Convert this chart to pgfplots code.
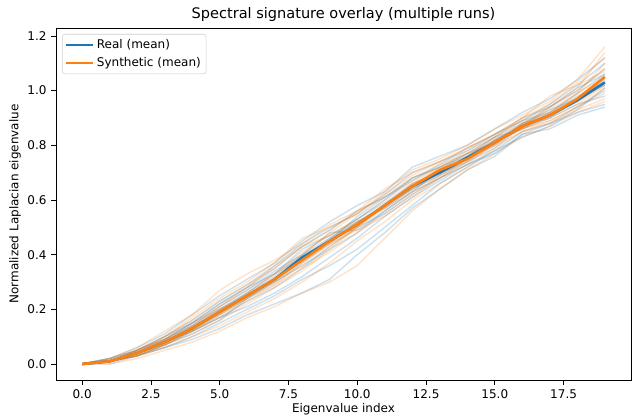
\documentclass[border=0pt]{standalone}
\usepackage{fontspec}
\setmainfont{DejaVu Sans}
\usepackage{pgfplots}
\pgfplotsset{compat=1.18}

\definecolor{mplblue}{HTML}{1F77B4}
\definecolor{mplorange}{HTML}{FF7F0E}

% one faint run: values at eigenvalue index 0,1,2,...
\newcommand{\run}[2]{\addplot[#1, forget plot] table[x expr=\coordindex, y index=0, header=false, row sep=\\] {#2};}

\begin{document}
\begin{tikzpicture}
% 1px of the reference = 0.75pt
\useasboundingbox (0,0) rectangle (474pt,312.75pt);
\begin{axis}[
    at={(42pt,27.75pt)}, anchor=south west,
    scale only axis,
    width=431.25pt, height=264pt,
    xmin=-0.95, xmax=19.95,
    ymin=-0.0585, ymax=1.229,
    xtick={0,2.5,...,17.5},
    ytick={0,0.2,...,1.2},
    xticklabel style={/pgf/number format/.cd, fixed, fixed zerofill, precision=1},
    yticklabel style={/pgf/number format/.cd, fixed, fixed zerofill, precision=1},
    /pgf/number format/assume math mode=true,
    tick align=outside, xtick pos=bottom, ytick pos=left,
    major tick length=3.6pt,
    tick style={black, line width=0.6pt},
    axis line style={black, line width=0.6pt},
    tick label style={font=\fontsize{9}{11}\selectfont},
    label style={font=\fontsize{9}{11}\selectfont},
    xlabel={Eigenvalue index},
    ylabel={Normalized Laplacian eigenvalue},
    xlabel style={yshift=3pt},
    ylabel style={yshift=-2pt},
    title={Spectral signature overlay (multiple runs)},
    title style={font=\fontsize{10.9}{13}\selectfont, yshift=-5pt},
    legend cell align=left,
    legend style={at={(0,1)}, anchor=north west, xshift=4.5pt, yshift=-4.5pt,
        draw=black!20, rounded corners=2pt, fill=white, fill opacity=0.8, text opacity=1,
        font=\fontsize{9}{11}\selectfont, inner sep=2pt, row sep=1pt},
    legend image code/.code={\draw[#1] (0pt,0pt) -- (20pt,0pt);},
    faintR/.style={mplblue, opacity=0.22, line width=1.1pt},
    faintS/.style={mplorange, opacity=0.22, line width=1.1pt},
]
% Real runs
\run{faintR}{0\\.01\\.05\\.10\\.16\\.23\\.29\\.36\\.44\\.50\\.55\\.62\\.70\\.74\\.78\\.84\\.90\\.94\\1.00\\1.08\\}
\run{faintR}{0\\.01\\.03\\.06\\.10\\.15\\.20\\.25\\.31\\.36\\.42\\.50\\.58\\.66\\.72\\.78\\.85\\.88\\.94\\1.00\\}
\run{faintR}{0\\.02\\.05\\.09\\.15\\.22\\.28\\.33\\.42\\.47\\.53\\.60\\.68\\.72\\.76\\.83\\.89\\.92\\.99\\1.06\\}
\run{faintR}{0\\.00\\.03\\.07\\.11\\.16\\.24\\.30\\.37\\.44\\.52\\.57\\.64\\.69\\.75\\.80\\.88\\.93\\.97\\1.02\\}
\run{faintR}{0\\.01\\.04\\.09\\.14\\.21\\.27\\.34\\.40\\.48\\.49\\.56\\.63\\.71\\.77\\.83\\.86\\.90\\.95\\.98\\}
\run{faintR}{0\\.01\\.04\\.08\\.12\\.17\\.21\\.26\\.32\\.39\\.46\\.54\\.61\\.67\\.73\\.77\\.84\\.88\\.92\\.95\\}
\run{faintR}{0\\.02\\.06\\.11\\.18\\.25\\.31\\.37\\.45\\.52\\.58\\.63\\.72\\.76\\.80\\.86\\.92\\.97\\1.04\\1.12\\}
\run{faintR}{0\\.01\\.03\\.07\\.12\\.18\\.24\\.30\\.36\\.42\\.48\\.56\\.63\\.68\\.73\\.78\\.83\\.87\\.93\\1.01\\}
\run{faintR}{0\\.01\\.04\\.08\\.13\\.20\\.26\\.32\\.40\\.46\\.53\\.59\\.66\\.70\\.74\\.79\\.87\\.94\\1.01\\1.06\\}
\run{faintR}{0\\.01\\.04\\.07\\.12\\.17\\.23\\.28\\.35\\.43\\.50\\.55\\.62\\.68\\.74\\.82\\.88\\.91\\.96\\1.03\\}
\run{faintR}{0\\.01\\.05\\.09\\.15\\.20\\.26\\.33\\.39\\.45\\.54\\.61\\.67\\.73\\.79\\.84\\.89\\.95\\1.02\\1.10\\}
\run{faintR}{0\\.01\\.03\\.06\\.09\\.13\\.18\\.22\\.26\\.31\\.40\\.48\\.57\\.64\\.71\\.76\\.84\\.86\\.91\\.94\\}
\run{faintR}{0\\.01\\.04\\.08\\.14\\.19\\.25\\.31\\.38\\.46\\.52\\.58\\.64\\.70\\.76\\.82\\.87\\.90\\.97\\1.04\\}
\run{faintR}{0\\.02\\.05\\.10\\.15\\.22\\.28\\.35\\.43\\.49\\.56\\.61\\.68\\.72\\.77\\.81\\.86\\.92\\.98\\1.03\\}
% Synthetic runs
\run{faintS}{0\\.01\\.05\\.10\\.17\\.24\\.30\\.37\\.46\\.50\\.55\\.63\\.71\\.75\\.80\\.86\\.91\\.96\\1.04\\1.16\\}
\run{faintS}{0\\.01\\.03\\.06\\.10\\.14\\.19\\.24\\.30\\.37\\.45\\.52\\.60\\.66\\.72\\.79\\.85\\.89\\.94\\1.01\\}
\run{faintS}{0\\.02\\.06\\.12\\.18\\.27\\.33\\.38\\.44\\.51\\.56\\.64\\.70\\.74\\.79\\.84\\.90\\.98\\1.02\\1.07\\}
\run{faintS}{0\\.01\\.03\\.07\\.11\\.16\\.22\\.28\\.34\\.42\\.50\\.58\\.66\\.72\\.77\\.83\\.88\\.92\\.97\\1.05\\}
\run{faintS}{0\\.01\\.04\\.08\\.13\\.19\\.26\\.33\\.41\\.47\\.52\\.57\\.64\\.69\\.75\\.80\\.85\\.88\\.93\\.97\\}
\run{faintS}{0\\.00\\.02\\.05\\.08\\.12\\.17\\.21\\.26\\.30\\.36\\.46\\.56\\.64\\.71\\.77\\.83\\.87\\.92\\.96\\}
\run{faintS}{0\\.01\\.05\\.09\\.15\\.21\\.27\\.33\\.40\\.48\\.55\\.62\\.69\\.74\\.79\\.84\\.89\\.94\\1.00\\1.08\\}
\run{faintS}{0\\.01\\.04\\.09\\.14\\.20\\.25\\.30\\.36\\.43\\.50\\.57\\.63\\.68\\.73\\.81\\.88\\.92\\.99\\1.10\\}
\run{faintS}{0\\.01\\.03\\.07\\.13\\.18\\.24\\.29\\.37\\.44\\.49\\.54\\.61\\.68\\.75\\.82\\.86\\.90\\.95\\1.02\\}
\run{faintS}{0\\.02\\.05\\.09\\.14\\.21\\.28\\.36\\.43\\.47\\.53\\.60\\.67\\.72\\.78\\.83\\.90\\.95\\1.03\\1.12\\}
\run{faintS}{0\\.01\\.04\\.08\\.12\\.17\\.23\\.29\\.35\\.41\\.48\\.55\\.62\\.69\\.74\\.80\\.87\\.93\\.99\\1.05\\}
\run{faintS}{0\\.01\\.03\\.07\\.12\\.18\\.24\\.31\\.38\\.45\\.52\\.58\\.65\\.71\\.76\\.82\\.86\\.89\\.94\\.99\\}
\run{faintS}{0\\.01\\.05\\.10\\.16\\.23\\.29\\.35\\.43\\.49\\.56\\.61\\.68\\.73\\.77\\.81\\.88\\.94\\1.01\\1.14\\}
\run{faintS}{0\\.01\\.04\\.08\\.13\\.20\\.25\\.31\\.38\\.44\\.50\\.58\\.66\\.70\\.75\\.81\\.86\\.91\\.96\\1.02\\}
% Means
\addplot[mplblue, line width=2pt] coordinates {
    (0,0) (1,0.01) (2,0.04) (3,0.08) (4,0.13) (5,0.19) (6,0.25) (7,0.31) (8,0.39) (9,0.45)
    (10,0.51) (11,0.58) (12,0.65) (13,0.70) (14,0.755) (15,0.81) (16,0.87) (17,0.91) (18,0.965) (19,1.03)
};
\addplot[mplorange, line width=2pt] coordinates {
    (0,0) (1,0.01) (2,0.04) (3,0.08) (4,0.13) (5,0.19) (6,0.25) (7,0.31) (8,0.38) (9,0.45)
    (10,0.51) (11,0.58) (12,0.65) (13,0.71) (14,0.75) (15,0.81) (16,0.87) (17,0.91) (18,0.97) (19,1.05)
};
\legend{Real (mean), Synthetic (mean)}
\end{axis}
\end{tikzpicture}
\end{document}
